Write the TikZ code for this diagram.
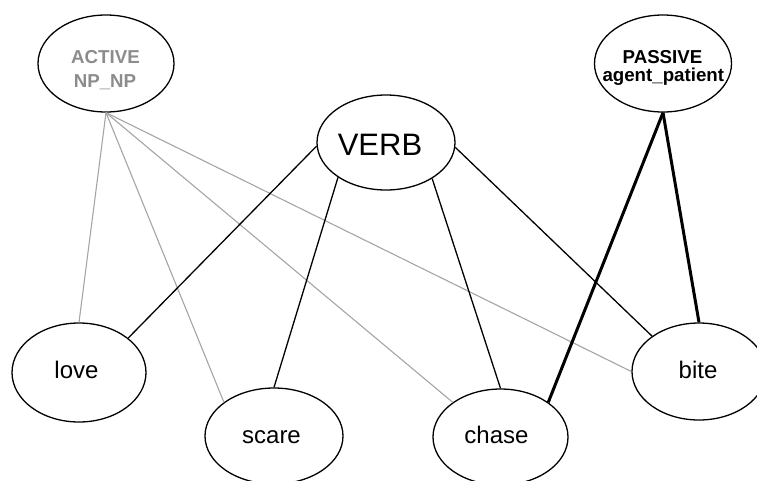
\documentclass[tikz,border=0pt]{standalone}
\usepackage{fontspec}
\setmainfont{Liberation Sans}
\usetikzlibrary{shapes.geometric}
\definecolor{lightln}{RGB}{165,165,165}
\definecolor{activetxt}{RGB}{140,140,140}
\tikzset{
  oval/.style={ellipse, draw=black, line width=1.3pt, inner sep=0pt, fill=white},
  word/.style={inner sep=0pt, anchor=base, font=\fontsize{24}{28}\selectfont},
  small/.style={inner sep=0pt, anchor=base, font=\bfseries\fontsize{18.7}{22}\selectfont},
  grayline/.style={draw=lightln, line width=1.1pt},
  blackline/.style={draw=black, line width=1.3pt},
  thickline/.style={draw=black, line width=3pt}
}
\begin{document}
\begin{tikzpicture}[x=1pt,y=-1pt]
\useasboundingbox (0,0) rectangle (757,480);
\clip (0,0) rectangle (757,480);
% ellipses
\node[oval, minimum width=136pt, minimum height=97pt] (act) at (106,63.5) {};
\node[oval, minimum width=137pt, minimum height=97pt] (pas) at (663,63.5) {};
\node[oval, minimum width=138pt, minimum height=95pt] (verb) at (386,142.5) {};
\node[oval, minimum width=134pt, minimum height=99pt] (love) at (79,372.5) {};
\node[oval, minimum width=138pt, minimum height=96pt] (scare) at (274,436) {};
\node[oval, minimum width=135pt, minimum height=96pt] (chase) at (500.5,437) {};
\node[oval, minimum width=134pt, minimum height=97pt] (bite) at (699,371.5) {};
% texts
\node[small, text=activetxt] (actt1) at (105.5,63) {ACTIVE};
\node[small, text=activetxt] (actt2) at (105,87) {NP\_NP};
\node[small] (past1) at (662.5,63) {PASSIVE};
\node[small] (past2) at (663.3,81) {agent\_patient};
\node[word, font=\fontsize{31}{36}\selectfont] (verbt) at (380,155) {VERB};
\node[word] (lovet) at (76.5,378) {love};
\node[word] (scaret) at (271.5,443) {scare};
\node[word] (chaset) at (496.5,443) {chase};
\node[word] (bitet) at (698,378) {bite};
% ACTIVE connectors
\draw[grayline] (act.south) -- (love.north);
\draw[grayline] (act.south) -- (scare.146);
\draw[grayline] (act.south) -- (chase.144);
\draw[grayline] (act.south) -- (bite.west);
% VERB connectors
\draw[blackline] (verb.183) -- (love.35);
\draw[blackline] (verb.216) -- (scare.north);
\draw[blackline] (verb.322) -- (chase.north);
\draw[blackline] (verb.356) -- (bite.143);
% PASSIVE connectors
\draw[thickline] (pas.south) -- (chase.36);
\draw[thickline] (pas.south) -- (bite.north);
\end{tikzpicture}
\end{document}
